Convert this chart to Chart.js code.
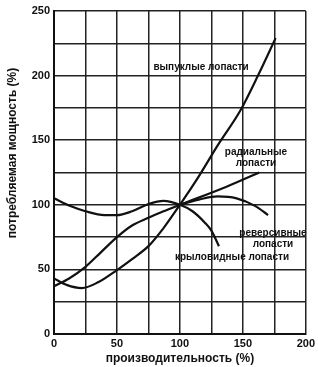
<!DOCTYPE html>
<html>
<head>
<meta charset="utf-8">
<script src="https://cdn.jsdelivr.net/npm/chart.js@4"></script>
<style>
    html, body { margin: 0; padding: 0; background: #fff; }
    #wrap { width: 318px; height: 367px; }
</style>
</head>
<body>
<div id="wrap"><canvas id="chart" width="318" height="367"></canvas></div>
<script>
// значения (%)
const xTicks = [0, 50, 100, 150, 200];
const yTicks = [0, 50, 100, 150, 200, 250];

const convexX = [0, 10, 22, 35, 50, 62, 75, 87, 100, 115, 130, 148, 162, 176];
const convexY = [43, 38, 35.5, 40, 49.5, 58, 68, 82, 100, 122, 146, 173, 200, 229];

const radialX = [0, 12, 25, 37, 50, 62, 75, 87, 100, 137, 163];
const radialY = [37, 43, 52, 63, 75, 84, 90, 95, 100, 114, 125];

const reverseX = [100, 115, 130, 145, 160, 170];
const reverseY = [100, 104, 106.5, 105, 99, 92];

const airfoilX = [0, 13, 25, 40, 50, 62, 75, 87, 100, 110, 120, 125, 131];
const airfoilY = [105, 99, 95, 92, 92, 95, 100.5, 103, 100, 95, 86, 80, 68];

const curveLabels = [
    { lines: ['выпуклые лопасти'], x: 201, y: 67 },
    { lines: ['радиальные', 'лопасти'], x: 256, y: 152 },
    { lines: ['реверсивные', 'лопасти'], x: 273, y: 233 },
    { lines: ['крыловидные лопасти'], x: 232, y: 257 }
];

const FONT = '"Liberation Sans", Arial, sans-serif';

function points(xs, ys) {
    return xs.map((x, i) => ({ x, y: ys[i] }));
}

function curve(xs, ys) {
    return {
        data: points(xs, ys),
        borderColor: '#111',
        borderWidth: 2.2,
        pointRadius: 0,
        cubicInterpolationMode: 'monotone',
        fill: false
    };
}

const labelsPlugin = {
    id: 'textLabels',
    afterDatasetsDraw(chart) {
        const ctx = chart.ctx;
        ctx.save();
        ctx.fillStyle = '#111';
        ctx.textAlign = 'center';
        ctx.textBaseline = 'middle';
        ctx.font = 'bold 10px ' + FONT;
        curveLabels.forEach((lbl) => {
            lbl.lines.forEach((line, i) => {
                ctx.fillText(line, lbl.x, lbl.y + i * 11);
            });
        });
        // подпись оси Y
        ctx.font = 'bold 12px ' + FONT;
        ctx.translate(13, 153);
        ctx.rotate(-Math.PI / 2);
        ctx.fillText('потребляемая мощность (%)', 0, 0);
        ctx.restore();
    }
};

new Chart(document.getElementById('chart').getContext('2d'), {
    type: 'line',
    data: {
        datasets: [
            curve(convexX, convexY),
            curve(radialX, radialY),
            curve(reverseX, reverseY),
            curve(airfoilX, airfoilY)
        ]
    },
    options: {
        responsive: false,
        animation: false,
        layout: { padding: { top: 11, right: 8, left: 0, bottom: 0 } },
        plugins: {
            legend: { display: false },
            tooltip: { enabled: false }
        },
        scales: {
            x: {
                type: 'linear',
                min: xTicks[0],
                max: xTicks[xTicks.length - 1],
                afterFit(scale) { scale.height = 33; },
                ticks: {
                    stepSize: 25,
                    padding: 3,
                    color: '#111',
                    font: { family: FONT, size: 11, weight: 'bold' },
                    callback: (v) => (xTicks.includes(v) ? v : '')
                },
                grid: { color: '#222', lineWidth: 1.5, drawTicks: false },
                border: { color: '#111', width: 2 },
                title: {
                    display: true,
                    text: 'производительность (%)',
                    color: '#111',
                    font: { family: FONT, size: 12, weight: 'bold' },
                    padding: { top: 0, bottom: 1 }
                }
            },
            y: {
                min: yTicks[0],
                max: yTicks[yTicks.length - 1],
                afterFit(scale) { scale.width = 54; },
                ticks: {
                    stepSize: 25,
                    padding: 4,
                    color: '#111',
                    font: { family: FONT, size: 11, weight: 'bold' },
                    callback: (v) => (yTicks.includes(v) ? v : '')
                },
                grid: { color: '#222', lineWidth: 1.5, drawTicks: false },
                border: { color: '#111', width: 2 }
            }
        }
    },
    plugins: [labelsPlugin]
});
</script>
</body>
</html>
